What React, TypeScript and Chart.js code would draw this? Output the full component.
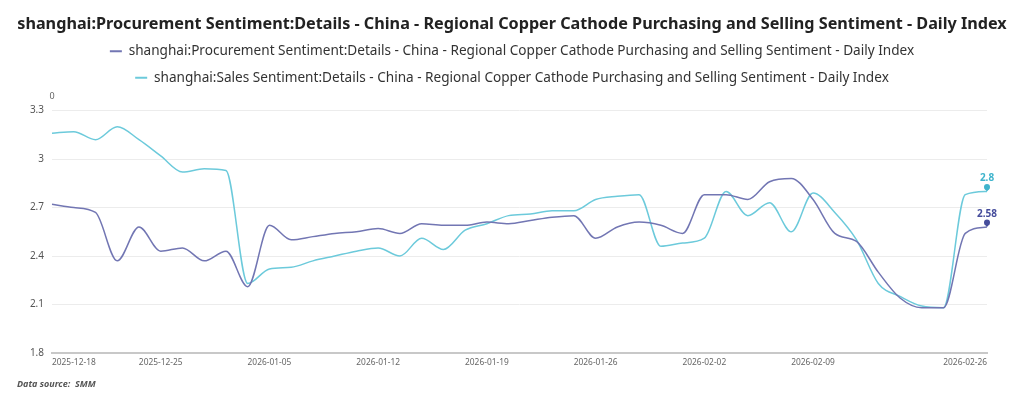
import React, { useEffect, useRef } from "react";
import { Chart, registerables } from "chart.js";

Chart.register(...registerables);

const TITLE =
  "shanghai:Procurement Sentiment:Details - China - Regional Copper Cathode Purchasing and Selling Sentiment - Daily Index";
const SERIES_NAMES = [
  "shanghai:Procurement Sentiment:Details - China - Regional Copper Cathode Purchasing and Selling Sentiment - Daily Index",
  "shanghai:Sales Sentiment:Details - China - Regional Copper Cathode Purchasing and Selling Sentiment - Daily Index",
];
const SERIES_COLORS = ["#7276b3", "#6ccadb"];
const LABEL_COLORS = ["#464d9c", "#3fb4cc"];

const DATES = [
  "2025-12-18", "2025-12-19", "2025-12-22", "2025-12-23", "2025-12-24",
  "2025-12-25", "2025-12-26", "2025-12-29", "2025-12-30", "2025-12-31",
  "2026-01-05", "2026-01-06", "2026-01-07", "2026-01-08", "2026-01-09",
  "2026-01-12", "2026-01-13", "2026-01-14", "2026-01-15", "2026-01-16",
  "2026-01-19", "2026-01-20", "2026-01-21", "2026-01-22", "2026-01-23",
  "2026-01-26", "2026-01-27", "2026-01-28", "2026-01-29", "2026-01-30",
  "2026-02-02", "2026-02-03", "2026-02-04", "2026-02-05", "2026-02-06",
  "2026-02-09", "2026-02-10", "2026-02-11", "2026-02-12", "2026-02-13",
  "2026-02-14", "2026-02-24", "2026-02-25", "2026-02-26",
];

const PROCUREMENT = [
  2.72, 2.70, 2.67, 2.37, 2.58, 2.43, 2.45, 2.37, 2.43, 2.21,
  2.59, 2.50, 2.52, 2.54, 2.55, 2.57, 2.54, 2.60, 2.59, 2.59,
  2.61, 2.60, 2.62, 2.64, 2.65, 2.51, 2.58, 2.61, 2.59, 2.54,
  2.78, 2.78, 2.75, 2.86, 2.88, 2.75, 2.54, 2.49, 2.30, 2.14,
  2.08, 2.08, 2.54, 2.58,
];

const SALES = [
  3.16, 3.17, 3.12, 3.20, 3.12, 3.02, 2.92, 2.94, 2.93, 2.23,
  2.32, 2.33, 2.37, 2.40, 2.43, 2.45, 2.40, 2.51, 2.44, 2.56,
  2.60, 2.65, 2.66, 2.68, 2.68, 2.75, 2.77, 2.78, 2.46, 2.48,
  2.51, 2.80, 2.65, 2.73, 2.55, 2.79, 2.67, 2.50, 2.23, 2.15,
  2.09, 2.08, 2.78, 2.80,
];

const Y_MIN = 1.8;
const Y_MAX = 3.3;
const Y_STEP = 0.3;
const Y_AXIS_NAME = "0";
const SOURCE_TEXT = "Data source:  SMM";
const X_LABEL_EVERY = 5;

const FONT = "'Noto Sans', sans-serif";

const legendSpacingPlugin = {
  id: "legendSpacing",
  beforeInit(chart: any) {
    const legend = chart.legend;
    if (!legend) return;
    const origFit = legend.fit;
    legend.fit = function () {
      origFit.call(this);
      this.height += 16;
    };
  },
};

const endLabelPlugin = {
  id: "endLabels",
  afterDatasetsDraw(chart: any) {
    const ctx = chart.ctx;
    chart.data.datasets.forEach((ds: any, di: number) => {
      const meta = chart.getDatasetMeta(di);
      const pt = meta.data[meta.data.length - 1];
      if (!pt) return;
      const x = pt.x;
      const y = pt.y;
      const col = LABEL_COLORS[di];
      ctx.save();
      ctx.fillStyle = col;
      ctx.beginPath();
      ctx.arc(x, y - 4.5, 3, 0, Math.PI * 2);
      ctx.fill();
      ctx.beginPath();
      ctx.moveTo(x - 2.6, y - 3);
      ctx.lineTo(x + 2.6, y - 3);
      ctx.lineTo(x, y);
      ctx.closePath();
      ctx.fill();
      ctx.font = "bold 10px " + FONT;
      ctx.textAlign = "center";
      ctx.textBaseline = "middle";
      ctx.fillText(String(ds.data[ds.data.length - 1]), x, y - 13);
      ctx.restore();
    });
  },
  afterDraw(chart: any) {
    const ctx = chart.ctx;
    const area = chart.chartArea;
    ctx.save();
    ctx.font = "9px " + FONT;
    ctx.fillStyle = "#666";
    ctx.textAlign = "center";
    ctx.textBaseline = "middle";
    ctx.fillText(Y_AXIS_NAME, area.left, area.top - 14);
    ctx.restore();
  },
};

export default function App() {
  const ref = useRef<HTMLCanvasElement | null>(null);

  useEffect(() => {
    document.body.style.margin = "0";
    const chart = new Chart(ref.current!, {
      type: "line",
      data: {
        labels: DATES,
        datasets: [
          {
            label: SERIES_NAMES[0],
            data: PROCUREMENT,
            borderColor: SERIES_COLORS[0],
            backgroundColor: SERIES_COLORS[0],
            borderWidth: 1.5,
            pointRadius: 0,
            cubicInterpolationMode: "monotone",
            yAxisID: "y",
          },
          {
            label: SERIES_NAMES[1],
            data: SALES,
            borderColor: SERIES_COLORS[1],
            backgroundColor: SERIES_COLORS[1],
            borderWidth: 1.5,
            pointRadius: 0,
            cubicInterpolationMode: "monotone",
            yAxisID: "y",
          },
        ],
      },
      options: {
        animation: false,
        responsive: true,
        maintainAspectRatio: false,
        layout: { padding: { left: 0, right: 0, top: 3, bottom: 26 } },
        plugins: {
          title: {
            display: true,
            text: TITLE,
            color: "#222",
            font: { family: FONT, size: 16.2, weight: "bold" },
            padding: { top: 12, bottom: -3 },
          },
          legend: {
            position: "top",
            labels: {
              usePointStyle: true,
              pointStyle: "line",
              pointStyleWidth: 12,
              boxHeight: 14,
              color: "#333",
              font: { family: FONT, size: 13.6 },
              padding: 13,
              generateLabels: (ch: any) =>
                Chart.defaults.plugins.legend.labels
                  .generateLabels(ch)
                  .map((l: any) => ({ ...l, lineWidth: 2 })),
            },
          },
          tooltip: { enabled: false },
        },
        scales: {
          x: {
            grid: { display: false, drawTicks: false },
            border: { display: true, color: "#c8c8c8", width: 2 },
            ticks: {
              autoSkip: false,
              maxRotation: 0,
              align: "inner",
              padding: 5,
              color: "#666",
              font: { family: FONT, size: 8.4 },
              callback: (_v: any, i: number) => {
                const last = DATES.length - 1;
                if (i === last) return DATES[i];
                if (i % X_LABEL_EVERY === 0 && last - i >= X_LABEL_EVERY) return DATES[i];
                return "";
              },
            },
          },
          y: {
            min: Y_MIN,
            max: Y_MAX,
            grid: { color: "#ececec", drawTicks: false },
            border: { display: false },
            ticks: {
              stepSize: Y_STEP,
              padding: 8,
              color: "#555",
              font: { family: FONT, size: 10 },
              callback: (v: any) => String(Number(Number(v).toFixed(1))),
            },
            afterFit: (s: any) => {
              s.width = 52;
            },
          },
          yRight: {
            position: "right",
            min: Y_MIN,
            max: Y_MAX,
            grid: { display: false, drawTicks: false },
            border: { display: false },
            ticks: { display: false },
            afterFit: (s: any) => {
              s.width = 37;
            },
          },
        },
      },
      plugins: [legendSpacingPlugin, endLabelPlugin],
    });
    return () => chart.destroy();
  }, []);

  return (
    <div style={{ position: "fixed", left: 0, top: 0, width: 1024, height: 399, background: "#fff" }}>
      <canvas ref={ref} />
      <div
        style={{
          position: "absolute",
          left: 17,
          top: 377,
          font: "italic bold 9px 'Noto Sans', sans-serif",
          color: "#555",
          whiteSpace: "pre",
        }}
      >
        {SOURCE_TEXT}
      </div>
    </div>
  );
}
